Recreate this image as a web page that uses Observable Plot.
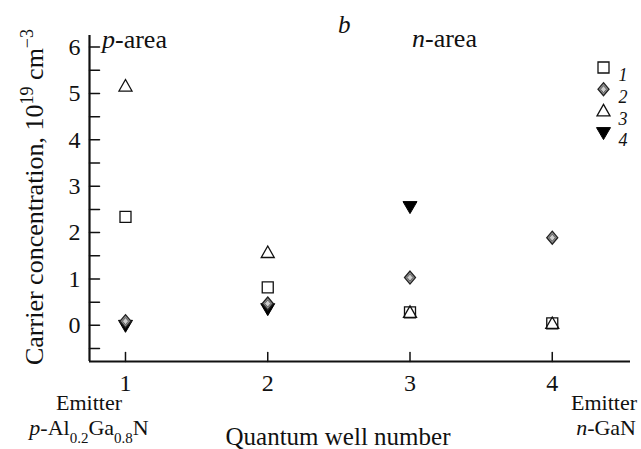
<!DOCTYPE html>
<html><head><meta charset="utf-8">
<script src="https://cdn.jsdelivr.net/npm/d3@7"></script>
<script src="https://cdn.jsdelivr.net/npm/@observablehq/plot@0.6"></script>
<style>body{margin:0;background:#fff} svg{display:block}</style>
</head><body><div id="chart"></div>
<script>
// ---- data ----
const wells = [1, 2, 3, 4];
const series1 = [2.34, 0.82, 0.28, 0.04];   // open squares
const series2 = [0.09, 0.47, 1.03, 1.89];   // grey diamonds
const series3 = [5.16, 1.57, 0.28, 0.04];   // open triangles
const series4 = [0.00, 0.36, 2.56, null];   // filled down triangles
const xTicks = [1, 2, 3, 4];
const yTicks = [-0.5, 0, 0.5, 1, 1.5, 2, 2.5, 3, 3.5, 4, 4.5, 5, 5.5, 6];
const yLabels = [0, 1, 2, 3, 4, 5, 6];
const legendLabels = ["1", "2", "3", "4"];
const xDomain = [0.747, 4.55];
const yDomain = [-0.78, 6.25];

const rows = vals => wells.map((w, i) => ({well: w, value: vals[i]})).filter(d => d.value != null);

// ---- symbols ----
const symSquare = {draw(c) { c.rect(-5.5, -5.5, 11, 11); }};
const symTri = {draw(c) { c.moveTo(0, -6.5); c.lineTo(6.5, 5); c.lineTo(-6.5, 5); c.closePath(); }};
const symTriDown = {draw(c) { c.moveTo(-7, -5); c.lineTo(7, -5); c.lineTo(0, 7); c.closePath(); }};
const symDiamond = {draw(c) { c.moveTo(0, -6.5); c.lineTo(5.5, 0); c.lineTo(0, 6.5); c.lineTo(-5.5, 0); c.closePath(); }};
const symDiamondIn = {draw(c) { c.moveTo(0, -3.5); c.lineTo(3, 0); c.lineTo(0, 3.5); c.lineTo(-3, 0); c.closePath(); }};
const spike = {draw(c, l) { c.moveTo(0, 0); c.lineTo(0, -l); }};

const styles = [
  {symbol: symSquare, fill: "none", stroke: "#111", strokeWidth: 1.3},
  {symbol: symDiamond, fill: "#8c8c8c", stroke: "#222", strokeWidth: 1.3},
  {symbol: symTri, fill: "none", stroke: "#111", strokeWidth: 1.3},
  {symbol: symTriDown, fill: "#000", stroke: "#000", strokeWidth: 1}
];

const legendMarks = [];
legendLabels.forEach((lab, i) => {
  const dy = 32 + i * 21.7;
  legendMarks.push(Plot.dot([lab], {frameAnchor: "top-right", dx: -27, dy, r: 5, ...styles[i]}));
  if (i === 1) legendMarks.push(Plot.dot([lab], {frameAnchor: "top-right", dx: -27, dy, symbol: symDiamondIn, fill: "#cfcfcf", stroke: "#555", strokeWidth: 0.8}));
  legendMarks.push(Plot.text([lab], {text: d => d, frameAnchor: "top-right", dx: -12, dy: dy + 1, textAnchor: "start", fontSize: 18, fontStyle: "italic", fill: "#111"}));
});

const plot = Plot.plot({
  width: 641, height: 449,
  marginLeft: 89, marginRight: 11, marginTop: 35, marginBottom: 88,
  style: {fontFamily: "'Liberation Serif', 'Times New Roman', serif", background: "#fff", color: "#111"},
  x: {domain: xDomain, axis: null},
  y: {domain: yDomain, axis: null},
  marks: [
    Plot.ruleX([xDomain[0]], {stroke: "#111", strokeWidth: 2.2}),
    Plot.ruleY([yDomain[0]], {stroke: "#111", strokeWidth: 2.2}),
    Plot.vector(yTicks, {x: () => xDomain[0], y: d => d, length: 10, rotate: 90, anchor: "start", shape: spike, stroke: "#111", strokeWidth: 1.5}),
    Plot.vector(xTicks, {x: d => d, y: () => yDomain[0], length: 9, rotate: 0, anchor: "start", shape: spike, stroke: "#111", strokeWidth: 1.5}),
    Plot.text(yLabels, {x: () => xDomain[0], y: d => d, text: d => String(d), dx: -9, textAnchor: "end", fontSize: 24, fill: "#111"}),
    Plot.text(xTicks, {x: d => d, y: () => yDomain[0], text: d => String(d), dy: 22, fontSize: 24, fill: "#111"}),
    Plot.dot(rows(series4), {x: "well", y: "value", ...styles[3]}),
    Plot.dot(rows(series2), {x: "well", y: "value", ...styles[1]}),
    Plot.dot(rows(series2), {x: "well", y: "value", symbol: symDiamondIn, fill: "#cfcfcf", stroke: "#555", strokeWidth: 0.8}),
    Plot.dot(rows(series1), {x: "well", y: "value", ...styles[0]}),
    Plot.dot(rows(series3), {x: "well", y: "value", ...styles[2]}),
    ...legendMarks
  ]
});

document.getElementById("chart").appendChild(plot);

// ---- rich text labels (italic / sub / superscripts) ----
const svg = d3.select(plot);
const sy = plot.scale("y");
const g = svg.append("g").attr("fill", "#111").attr("font-family", "'Liberation Serif', 'Times New Roman', serif").attr("font-size", 26);

function addText(x, y, parts, anchor, size, extra) {
  const t = g.append("text").attr("x", x).attr("y", y).attr("text-anchor", anchor || "start");
  if (size) t.attr("font-size", size);
  if (extra) extra(t);
  const sub = Math.round((size || 26) * 0.7);
  parts.forEach(p => {
    const s = t.append("tspan").text(p.t);
    if (p.i) s.attr("font-style", "italic");
    if (p.sub) s.attr("baseline-shift", "sub").attr("font-size", sub);
    if (p.sup) s.attr("baseline-shift", "super").attr("font-size", sub);
  });
  return t;
}

addText(338, 33, [{t: "b", i: true}], "start", 25);
addText(102, 48, [{t: "p", i: true}, {t: "-area"}]);
addText(412, 47, [{t: "n", i: true}, {t: "-area"}]);

// y axis title
addText(0, 0, [{t: "Carrier concentration, 10"}, {t: "19", sup: true}, {t: " cm"}, {t: "\u22123", sup: true}], "middle", 26,
  t => t.attr("transform", `translate(43,${(sy.apply(yDomain[0]) + 25) / 2 + 4}) rotate(-90)`));

// x axis annotations
addText(89, 410, [{t: "Emitter"}], "middle", 22);
addText(89, 435, [{t: "p", i: true}, {t: "-Al"}, {t: "0.2", sub: true}, {t: "Ga"}, {t: "0.8", sub: true}, {t: "N"}], "middle", 22);
addText(637, 410, [{t: "Emitter"}], "end", 22);
addText(636, 435, [{t: "n", i: true}, {t: "-GaN"}], "end", 22);
addText(338, 445, [{t: "Quantum well number"}], "middle", 25);
</script>
</body></html>
